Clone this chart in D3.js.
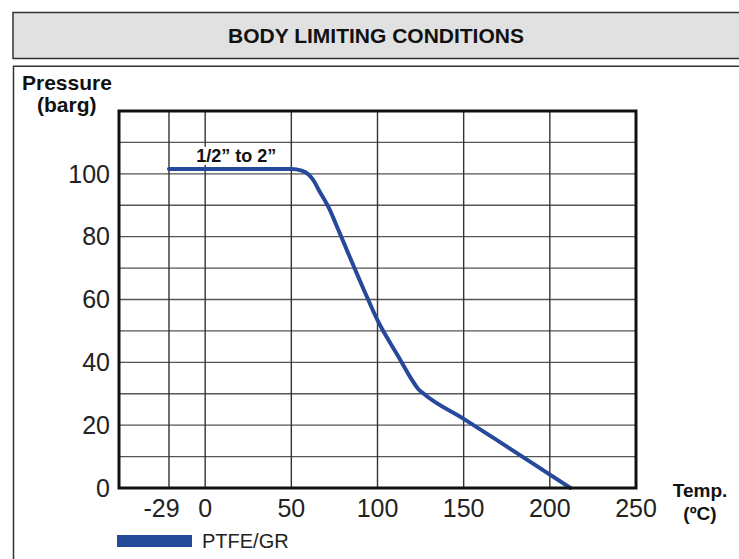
<!DOCTYPE html>
<html>
<head>
<meta charset="utf-8">
<script src="https://cdn.jsdelivr.net/npm/d3@7"></script>
<style>
    html, body { margin: 0; padding: 0; background: #fff; }
    svg { display: block; font-family: "Liberation Sans", Arial, Helvetica, sans-serif; }
</style>
</head>
<body>
<div id="container"></div>
<script>
// ---- data ----
const chartTitle = "BODY LIMITING CONDITIONS";
const seriesName = "PTFE/GR";
const sizeLabel = "1/2\u201d to 2\u201d";

const xTickValues = [-29, 0, 50, 100, 150, 200, 250];
const yTickValues = [0, 20, 40, 60, 80, 100];
const yGridValues = [10, 20, 30, 40, 50, 60, 70, 80, 90, 100, 110];

// PTFE/GR pressure (barg) against temperature (ºC)
const temperatures = [-29, 50, 56, 60, 63, 66, 72, 77, 92, 100, 113, 120, 123.5, 127, 150, 212];
const pressures = [101.5, 101.5, 101, 99.8, 97.8, 94.8, 88.9, 82.5, 63.2, 53.4, 41, 34.4, 31.6, 29.9, 22, 0];

const width = 739;
const height = 559;
const plot = {left: 119, right: 636, top: 111, bottom: 488};

const svg = d3.create("svg")
    .attr("width", width)
    .attr("height", height);

svg.append("rect")
    .attr("width", width)
    .attr("height", height)
    .attr("fill", "#fff");

// title band
svg.append("rect")
    .attr("x", 13)
    .attr("y", 12.5)
    .attr("width", width)
    .attr("height", 46)
    .attr("fill", "#e1e1e1")
    .attr("stroke", "#333")
    .attr("stroke-width", 1.5);

svg.append("text")
    .attr("x", 376)
    .attr("y", 43)
    .attr("text-anchor", "middle")
    .attr("font-weight", "bold")
    .attr("font-size", "21px")
    .attr("fill", "#111")
    .text(chartTitle);

// body box (only its top and left edges are in view)
svg.append("path")
    .attr("d", `M13.5,${height + 2}V66.3H${width + 2}`)
    .attr("fill", "none")
    .attr("stroke", "#333")
    .attr("stroke-width", 1.5);

// the -29 line is drawn where the original graph put it, not to scale
const xLinear = d3.scaleLinear().domain([-50, 250]).range([plot.left, plot.right]);
const x = d3.scaleLinear()
    .domain([-50, -29, 0, 250])
    .range([plot.left, xLinear(-21), xLinear(0), plot.right]);

const y = d3.scaleLinear()
    .domain([0, 120])
    .range([plot.bottom, plot.top]);

// grid
svg.selectAll("line.h-grid")
    .data(yGridValues)
    .enter()
    .append("line")
    .attr("class", "h-grid")
    .attr("x1", plot.left)
    .attr("x2", plot.right)
    .attr("y1", d => y(d))
    .attr("y2", d => y(d))
    .attr("stroke", "#555")
    .attr("stroke-width", 1.4);

svg.selectAll("line.v-grid")
    .data(xTickValues.slice(0, -1))
    .enter()
    .append("line")
    .attr("class", "v-grid")
    .attr("x1", d => x(d))
    .attr("x2", d => x(d))
    .attr("y1", plot.top)
    .attr("y2", plot.bottom)
    .attr("stroke", "#333")
    .attr("stroke-width", 1.4);

// size label with white backing
const labelGroup = svg.append("g");
const labelBg = labelGroup.append("rect").attr("fill", "#fff");
const labelText = labelGroup.append("text")
    .attr("x", x(18))
    .attr("y", y(103.8))
    .attr("text-anchor", "middle")
    .attr("font-weight", "bold")
    .attr("font-size", "18px")
    .attr("fill", "#111")
    .text(sizeLabel);

// pressure curve
const curve = d3.line()
    .x(i => x(temperatures[i]))
    .y(i => y(pressures[i]))
    .curve(d3.curveMonotoneX);

svg.append("path")
    .datum(d3.range(temperatures.length))
    .attr("d", curve)
    .attr("fill", "none")
    .attr("stroke", "#27499b")
    .attr("stroke-width", 4)
    .attr("stroke-linejoin", "round")
    .attr("stroke-linecap", "round");

// plot frame
svg.append("rect")
    .attr("x", plot.left)
    .attr("y", plot.top)
    .attr("width", plot.right - plot.left)
    .attr("height", plot.bottom - plot.top)
    .attr("fill", "none")
    .attr("stroke", "#111")
    .attr("stroke-width", 3);

// y tick labels
svg.selectAll("text.y-tick")
    .data(yTickValues)
    .enter()
    .append("text")
    .attr("class", "y-tick")
    .attr("x", plot.left - 9)
    .attr("y", d => y(d))
    .attr("dy", "0.35em")
    .attr("text-anchor", "end")
    .attr("font-size", "25px")
    .attr("fill", "#222")
    .text(d => d);

// x tick labels
svg.selectAll("text.x-tick")
    .data(xTickValues)
    .enter()
    .append("text")
    .attr("class", "x-tick")
    .attr("x", d => x(d))
    .attr("y", plot.bottom + 29)
    .attr("dx", d => d < 0 ? "-0.3em" : 0)
    .attr("text-anchor", "middle")
    .attr("font-size", "25px")
    .attr("fill", "#222")
    .text(d => d);

// axis titles
const yTitle = svg.append("text")
    .attr("font-weight", "bold")
    .attr("font-size", "21px")
    .attr("fill", "#111");
yTitle.append("tspan").attr("x", 22).attr("y", 90).text("Pressure");
yTitle.append("tspan").attr("x", 37).attr("y", 112).text("(barg)");

const xTitle = svg.append("text")
    .attr("text-anchor", "middle")
    .attr("font-weight", "bold")
    .attr("font-size", "19px")
    .attr("fill", "#111");
xTitle.append("tspan").attr("x", 700).attr("y", 497).text("Temp.");
xTitle.append("tspan").attr("x", 700).attr("y", 520).text("(\u00baC)");

// legend
const legend = svg.append("g")
    .attr("transform", `translate(117, 535)`);

legend.append("rect")
    .attr("width", 75)
    .attr("height", 12)
    .attr("fill", "#264a9a");

legend.append("text")
    .attr("x", 85)
    .attr("y", 13)
    .attr("font-size", "20px")
    .attr("fill", "#222")
    .text(seriesName);

d3.select("#container").append(() => svg.node());

const box = labelText.node().getBBox();
labelBg
    .attr("x", box.x - 4)
    .attr("y", box.y + 1)
    .attr("width", box.width + 8)
    .attr("height", box.height - 2);
</script>
</body>
</html>
